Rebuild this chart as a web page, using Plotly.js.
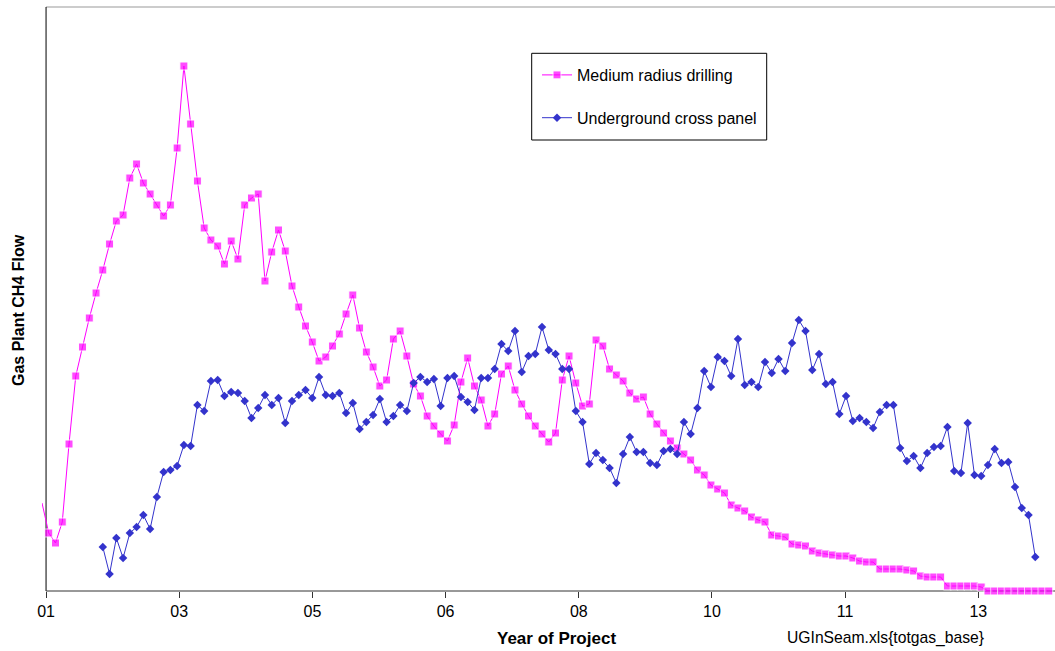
<!DOCTYPE html>
<html>
<head>
<meta charset="utf-8">
<script src="https://cdn.plot.ly/plotly-3.0.1.min.js"></script>
<style>
  html, body { margin: 0; padding: 0; background: #fff; }
  #chart { width: 1055px; height: 651px; }
</style>
</head>
<body>
<div id="chart"></div>
<script>
// ---- data (monthly values, arbitrary flow units) ----
const seriesNames = ['Medium radius drilling', 'Underground cross panel'];

// month index of first value of each series
const mediumStart = -1;
const crossStart = 8;

const mediumRadius = [
  88,
  58, 48, 69, 147, 215, 244, 273, 298, 321, 347,
  370, 376, 413, 427, 408, 397, 386, 375, 386, 443,
  525, 467, 410, 363, 351, 345, 327, 350, 332, 386,
  393, 397, 310, 339, 361, 340, 305, 284, 265, 249,
  230, 234, 245, 257, 277, 296, 263, 239, 224, 205,
  211, 252, 260, 235, 207, 195, 175, 165, 157, 150,
  166, 209, 233, 205, 191, 165, 177, 217, 225, 201,
  187, 175, 165, 157, 149, 158, 211, 235, 208, 185,
  187, 251, 245, 222, 216, 210, 198, 192, 194, 177,
  167, 158, 150, 143, 137, 131, 121, 116, 106, 102,
  98, 86, 83, 80, 74, 71, 69, 56, 55, 54,
  47, 46, 45, 40, 38, 37, 36, 35, 35, 33,
  30, 29, 29, 22, 22, 22, 22, 21, 20, 15,
  14, 14, 14, 5, 5, 5, 5, 5, 4, 0,
  0, 0, 0, 0, 0, 0, 0, 0, 0
];

const crossPanel = [
  44, 17,
  53, 33, 58, 64, 76, 62, 94, 119, 121, 125,
  146, 145, 186, 180, 210, 211, 195, 199, 198, 190,
  173, 183, 196, 186, 193, 168, 190, 196, 201, 193,
  214, 196, 195, 198, 178, 188, 162, 169, 176, 192,
  169, 175, 186, 180, 208, 214, 209, 212, 185, 213,
  215, 194, 189, 181, 213, 213, 222, 247, 240, 260,
  219, 235, 237, 264, 241, 237, 222, 222, 180, 169,
  127, 138, 131, 123, 108, 137, 154, 139, 139, 128,
  126, 140, 142, 137, 169, 157, 183, 220, 204, 234,
  230, 215, 252, 206, 209, 204, 229, 218, 232, 220,
  248, 271, 260, 221, 237, 207, 209, 177, 195, 170,
  173, 169, 163, 179, 186, 186, 143, 130, 135, 123,
  138, 144, 145, 164, 120, 118, 168, 116, 115, 126,
  142, 128, 129, 104, 83, 76, 34
];

const tickLabels = ['01', '03', '05', '06', '08', '10', '11', '13'];
const axisStart = -0.4;      // month index where the axis begins
const tickStep = 19.71;      // months between labelled ticks (600 days)

// ---- build ----
const FONT = 'Liberation Sans, Arial, Helvetica, sans-serif';
const mx = mediumRadius.map((_, i) => mediumStart + i);
const cx = crossPanel.map((_, i) => crossStart + i);
const mSizes = mediumRadius.map((_, i) => (mediumStart + i) < axisStart ? 0 : 8);

const xMin = -1.0, xMax = 148.92;
const tickVals = tickLabels.map((_, k) => axisStart + k * tickStep);

const traces = [
  {
    name: seriesNames[0], x: mx, y: mediumRadius, type: 'scatter', mode: 'lines+markers',
    line: { color: '#FF00FF', width: 1 },
    marker: { symbol: 'square', size: mSizes, color: '#FF00FF' },
    cliponaxis: false, legendgroup: 'a'
  },
  {
    name: seriesNames[1], x: cx, y: crossPanel, type: 'scatter', mode: 'lines+markers',
    line: { color: '#3333CC', width: 1 },
    marker: { symbol: 'diamond', size: 6.5, color: '#3333CC' },
    cliponaxis: false, legendgroup: 'b'
  }
];

const L = 42, T = 7, B = 60, W = 1055, H = 651;
const pw = W - L, ph = H - T - B;
const px = (p) => (p - L) / pw;          // pixel -> paper x
const py = (p) => (H - B - p) / ph;      // pixel -> paper y

const layout = {
  width: W, height: H,
  margin: { l: L, r: 0, t: T, b: B, pad: 0 },
  paper_bgcolor: '#fff', plot_bgcolor: '#fff',
  font: { family: FONT, size: 16, color: '#000' },
  showlegend: true,
  legend: {
    x: px(537), y: py(58), xanchor: 'left', yanchor: 'top',
    bgcolor: 'rgba(0,0,0,0)', borderwidth: 0,
    font: { family: FONT, size: 16, color: '#000' },
    tracegroupgap: 19, traceorder: 'grouped'
  },
  xaxis: {
    range: [xMin, xMax], showgrid: false, zeroline: false, showline: false,
    tickmode: 'array', tickvals: tickVals, ticktext: tickLabels,
    ticks: 'outside', ticklen: 6, tickwidth: 1, tickcolor: '#333',
    tickfont: { family: FONT, size: 16, color: '#000' },
    fixedrange: true
  },
  yaxis: {
    range: [0, 584], showgrid: false, zeroline: false, showline: false,
    showticklabels: false, ticks: '', fixedrange: true
  },
  shapes: [
    // plot area top border (gray)
    { type: 'line', xref: 'x', yref: 'paper', x0: axisStart, x1: xMax, y0: 1, y1: 1,
      line: { color: '#999', width: 1 }, layer: 'below' },
    // y axis line
    { type: 'line', xref: 'x', yref: 'paper', x0: axisStart, x1: axisStart, y0: 0, y1: 1,
      line: { color: '#000', width: 1 }, layer: 'below' },
    // x axis line
    { type: 'line', xref: 'x', yref: 'paper', x0: axisStart, x1: xMax, y0: 0, y1: 0,
      line: { color: '#333', width: 1 }, layer: 'below' },
    // legend box
    { type: 'rect', xref: 'paper', yref: 'paper', x0: px(531.7), x1: px(766.7), y0: py(140), y1: py(53.3),
      line: { color: '#000', width: 1 }, fillcolor: '#fff', layer: 'below' }
  ],
  annotations: [
    { text: '<b>Year of Project</b>', xref: 'paper', yref: 'paper', x: px(556.7), y: py(638),
      xanchor: 'center', yanchor: 'middle', showarrow: false,
      font: { family: FONT, size: 17, color: '#000' } },
    { text: 'UGInSeam.xls{totgas_base}', xref: 'paper', yref: 'paper', x: px(785), y: py(638),
      xanchor: 'left', yanchor: 'middle', showarrow: false,
      font: { family: FONT, size: 15.7, color: '#000' } },
    { text: '<b>Gas Plant CH4 Flow</b>', xref: 'paper', yref: 'paper', x: px(18), y: py(310),
      xanchor: 'center', yanchor: 'middle', textangle: -90, showarrow: false,
      font: { family: FONT, size: 16, color: '#000' } }
  ]
};

Plotly.newPlot('chart', traces, layout, { displayModeBar: false, staticPlot: true });
</script>
</body>
</html>
